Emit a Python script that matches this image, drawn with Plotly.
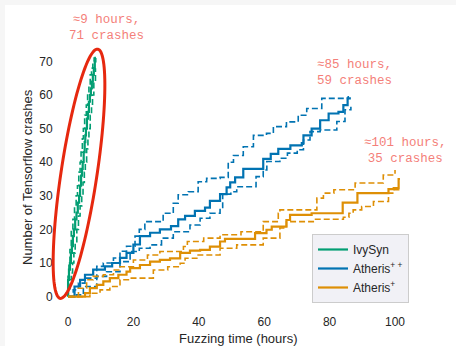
import numpy as np
import plotly.graph_objects as go

# ---------------- data ----------------
green_t = [0, 0.03, 0.3, 0.6, 0.9, 1.2, 1.5, 1.8, 2.2, 2.6, 3.0, 3.4, 3.7, 4.0, 4.3, 4.5, 4.8, 5.1, 5.3, 5.5,
           5.8, 6.1, 6.4, 6.7, 7.0, 7.3, 7.6, 7.9, 8.2, 8.4]
green_mean = [0, 5, 8, 10, 13, 15, 18, 20, 23, 25, 28, 30, 33, 36, 38, 40, 43, 46, 48, 50,
              53, 55, 58, 60, 62, 64, 66, 68, 70, 71]
green_hi_t = [0, 0.02, 0.3, 0.6, 1.0, 1.5, 2.0, 2.5, 2.9, 3.3, 3.7, 4.0, 4.4, 4.7, 5.1, 5.6, 6.0, 6.4, 6.8,
              7.2, 7.6, 8.0, 8.3]
green_hi = [0, 6, 10, 14, 20, 23, 27, 30, 33, 37, 40, 43, 47, 50, 54, 57, 60, 63, 66, 68, 70, 71, 72]
green_lo_t = [0, 0.1, 0.6, 1.0, 1.4, 1.8, 2.2, 2.7, 3.2, 3.7, 4.2, 4.6, 5.0, 5.3, 5.7, 6.1, 6.4, 6.8, 7.2,
              7.5, 7.9, 8.4]
green_lo = [0, 2, 5, 7, 10, 13, 16, 20, 24, 27, 30, 34, 37, 40, 44, 47, 50, 54, 57, 60, 64, 68]

blue_t = [0, 2.0, 3.7, 5.2, 7.7, 11.3, 13.5, 15.9, 17.9, 20.0, 22.0, 25.1, 28.1, 31.5, 33.7, 35.8, 38.8,
          41.9, 43.4, 46.5, 48.5, 49.6, 51.1, 53.6, 58.7, 59.7, 62.0, 64.3, 68.0, 71.5, 72.0, 74.5, 77.1,
          79.7, 82.7, 84.2, 85.5, 86.5]
blue_mean = [0, 3, 5, 6.5, 8, 9, 10, 11.5, 13, 15.5, 18, 19, 20, 21, 23, 24, 25.5, 26.5, 28.5, 30.5, 32.5,
             34, 35.5, 38, 38, 41, 42.5, 44, 45, 45.7, 48, 50, 52.5, 54.5, 55, 57, 59, 59]
blue_hi_t = [0, 1.6, 3.2, 5.2, 8.8, 10.8, 13.9, 15.9, 17.9, 20.5, 21.8, 23.5, 29.1, 32.2, 33.7, 36.8, 39.8,
             42.4, 46.5, 49.0, 50.6, 53.6, 56.7, 60.7, 62.8, 66.8, 70.4, 73.0, 77.6, 85.7]
blue_hi = [0, 2, 4, 5.5, 9, 10, 11.5, 13.5, 15, 18, 20, 22.3, 24.8, 27.8, 30.3, 31.2, 34.2, 35.2, 35.5,
           40, 42, 44.6, 48, 48.6, 50.6, 52, 54, 56, 59, 59.7]
blue_lo_t = [0, 2.6, 4.7, 8.8, 11.8, 15.9, 19.0, 21.8, 25.1, 28.6, 32.2, 37.3, 40.4, 43.4, 46.5, 47.3,
             49.8, 51.6, 54.8, 57.5, 59.7, 60.8, 64.8, 67.1, 70.1, 72.0, 74.0, 77.1, 82.2, 84.7, 86.5]
blue_lo = [0, 0.5, 3, 6, 7.4, 10.4, 13.4, 14.4, 15.4, 17.4, 19.3, 21.3, 23.3, 24.8, 26.5, 30.5, 31.2,
           32.7, 32.7, 35.7, 37.7, 40.2, 41.2, 42.7, 43.7, 46.6, 49.1, 49.6, 52.1, 55.6, 56.5]

orange_t = [0, 5.2, 6.7, 8.8, 10.8, 12.8, 15.4, 17.9, 19.0, 22.0, 25.1, 28.1, 31.2, 34.3, 37.3, 40.4,
            43.4, 46.5, 48.0, 57.2, 60.7, 62.3, 66.8, 67.9, 74.5, 84.0, 88.5, 98.0, 99.6, 101.1, 101.5]
orange_mean = [0, 1, 2.5, 3.5, 4.5, 5.5, 6.5, 7.4, 8.5, 9.4, 10.4, 10.9, 11.4, 13, 13.7, 13.9, 14.9,
               16.4, 17.2, 18.9, 19.9, 20.8, 22.8, 24.3, 24.8, 28, 30.8, 32, 32.3, 35, 35]
orange_hi_t = [0, 3.2, 5.7, 7.7, 10.8, 13.9, 15.9, 20.0, 24.3, 28.1, 35.3, 36.5, 41.5, 46.5, 52.9, 59.7,
               64.3, 64.8, 76.1, 78.1, 81.3, 87.8, 96.4, 100.0]
orange_hi = [0, 2.5, 5, 6, 6.5, 7.9, 8.9, 10.9, 12.4, 13.4, 14.9, 16.4, 17.4, 18.4, 19.3, 22.3, 24.8,
             25.8, 29.3, 30.8, 31.8, 33.8, 36.2, 37.7]
orange_lo_t = [0, 6.7, 9.8, 12.8, 15.9, 19.0, 26.1, 30.5, 34.3, 35.8, 39.4, 46.5, 51.6, 59.7, 64.8, 66.8,
               75.0, 84.2, 85.9, 87.2, 89.8, 93.4, 98.0, 99.6, 101.1]
orange_lo = [0, 1, 2, 3, 5, 5.5, 7.9, 8.9, 9.9, 11.4, 12.4, 14.4, 15.4, 17.4, 20.4, 22.3, 23, 23.6,
             24.8, 25.8, 26.8, 28.3, 30.8, 31.8, 32.3]

series_names = ["IvySyn", "Atheris<sup>+ +</sup>", "Atheris<sup>+</sup>"]
colors = ["#029E73", "#0173B2", "#DE8F05"]

x_ticks = [0, 20, 40, 60, 80, 100]
y_ticks = [0, 10, 20, 30, 40, 50, 60, 70]
x_range = [-1.83, 105.8]
y_range = [-3.4, 74.3]

notes = ["≈9 hours,<br>71 crashes", "≈85 hours,<br>59 crashes", "≈101 hours,<br>35 crashes"]

# ---------------- figure ----------------
W, H = 456, 346
ML, MR, MT, MB = 62, 42, 47, 38
PW, PH = W - ML - MR, H - MT - MB

fig = go.Figure()

groups = [
    (green_t, green_mean, green_hi_t, green_hi, green_lo_t, green_lo),
    (blue_t, blue_mean, blue_hi_t, blue_hi, blue_lo_t, blue_lo),
    (orange_t, orange_mean, orange_hi_t, orange_hi, orange_lo_t, orange_lo),
]
for name, col, (t, m, ht, h, lt, l) in zip(series_names, colors, groups):
    fig.add_trace(go.Scatter(x=ht, y=h, mode="lines", line=dict(color=col, width=1.6, dash="6px,3px", shape="hv"),
                             showlegend=False, hoverinfo="skip"))
    fig.add_trace(go.Scatter(x=lt, y=l, mode="lines", line=dict(color=col, width=1.6, dash="6px,3px", shape="hv"),
                             showlegend=False, hoverinfo="skip"))
    fig.add_trace(go.Scatter(x=t, y=m, mode="lines", name=name,
                             line=dict(color=col, width=2.2, shape="hv")))

# red highlight ellipse (pixel geometry -> paper coordinates)
cx, cy = 79.0, 173.75
a, b = 126.0, 18.0
ang = np.arctan2(38.0, 252.5)
th = np.linspace(0, 2 * np.pi, 120)
ux, uy = np.sin(ang), -np.cos(ang)     # major direction (pixel, y down)
vx, vy = np.cos(ang), np.sin(ang)
px = cx + a * np.cos(th) * ux + b * np.sin(th) * vx
py = cy + a * np.cos(th) * uy + b * np.sin(th) * vy
pxp = (px - ML) / PW
pyp = (H - MB - py) / PH
path = "M " + " L ".join(f"{x:.5f},{y:.5f}" for x, y in zip(pxp, pyp)) + " Z"
fig.add_shape(type="path", path=path, xref="paper", yref="paper",
              line=dict(color="#e6280f", width=3), layer="above")

# page background: light gray strip at top/left, white elsewhere
fig.add_shape(type="rect", xref="paper", yref="paper",
              x0=(5 - ML) / PW, x1=1.5, y0=-0.5, y1=(H - MB - 5) / PH,
              fillcolor="white", line=dict(width=0), layer="below")

note_pos = [((106 - ML) / PW, (H - MB - 28) / PH),
            ((354 - ML) / PW, (H - MB - 73) / PH),
            ((405 - ML) / PW, (H - MB - 150.5) / PH)]
for txt, (nx, ny) in zip(notes, note_pos):
    fig.add_annotation(text=txt, xref="paper", yref="paper", x=nx, y=ny, showarrow=False,
                       xanchor="center", yanchor="middle", align="center",
                       font=dict(family="Liberation Mono", size=12.5, color="#f47f7a"))

# axis titles as paper annotations (exact placement)
fig.add_annotation(text="Fuzzing time (hours)", xref="paper", yref="paper",
                   x=(238 - ML) / PW, y=(H - MB - 338.5) / PH, showarrow=False,
                   xanchor="center", yanchor="middle",
                   font=dict(family="Liberation Sans", size=13, color="#262626"))
fig.add_annotation(text="Number of Tensorflow crashes", xref="paper", yref="paper",
                   x=(27 - ML) / PW, y=(H - MB - 177) / PH, showarrow=False, textangle=-90,
                   xanchor="center", yanchor="middle",
                   font=dict(family="Liberation Sans", size=13, color="#262626"))

axis_common = dict(showgrid=True, gridcolor="white", gridwidth=2, zeroline=False, showline=False,
                   automargin=False, ticks="outside", tickcolor="rgba(0,0,0,0)",
                   tickfont=dict(family="Liberation Sans", size=12, color="#262626"))
fig.update_xaxes(range=x_range, tickvals=x_ticks, ticklen=3, **axis_common)
fig.update_yaxes(range=y_range, tickvals=y_ticks, ticklen=6, **axis_common)

fig.update_layout(
    width=W, height=H, autosize=False,
    margin=dict(l=ML, r=MR, t=MT, b=MB, pad=0),
    paper_bgcolor="#f6f6f6", plot_bgcolor="#EAEAF2",
    font=dict(family="Liberation Sans", color="#262626"),
    legend=dict(x=(409 - ML) / PW, y=(H - MB - 303) / PH, xanchor="right", yanchor="bottom",
                bgcolor="rgba(238,238,244,0.85)", bordercolor="#cccccc", borderwidth=1,
                font=dict(family="Liberation Sans", size=12, color="#262626"),
                tracegroupgap=0, itemwidth=30),
    showlegend=True,
)

fig.write_html("out.html")
